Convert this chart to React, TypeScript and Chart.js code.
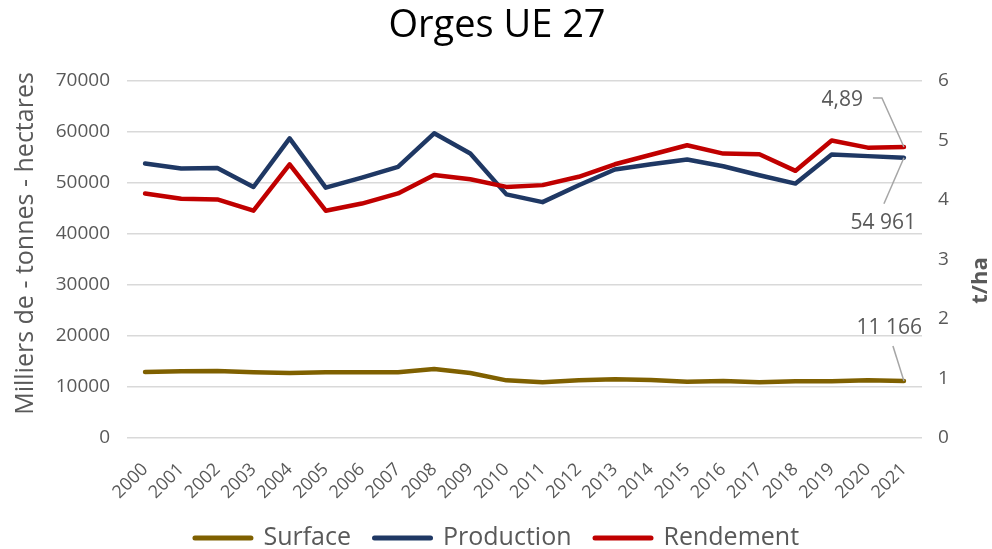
import React, { useEffect, useRef } from 'react';
import { Chart, registerables } from 'chart.js';

Chart.register(...registerables);

const title = 'Orges UE 27';
const years = ['2000', '2001', '2002', '2003', '2004', '2005', '2006', '2007', '2008', '2009', '2010',
  '2011', '2012', '2013', '2014', '2015', '2016', '2017', '2018', '2019', '2020', '2021'];
const surface = [12940, 13080, 13140, 12880, 12750, 12880, 12880, 12880, 13530, 12750, 11300,
  10920, 11310, 11500, 11370, 11050, 11180, 10920, 11110, 11110, 11300, 11166];
const production = [53830, 52840, 52960, 49210, 58760, 49090, 51060, 53160, 59740, 55800, 47770,
  46250, 49550, 52640, 53690, 54610, 53290, 51520, 49880, 55600, 55270, 54961];
const rendement = [4.11, 4.02, 4.01, 3.82, 4.60, 3.82, 3.94, 4.11, 4.42, 4.35, 4.22,
  4.25, 4.39, 4.60, 4.76, 4.92, 4.78, 4.77, 4.49, 5.00, 4.88, 4.89];
const seriesNames = ['Surface', 'Production', 'Rendement'];
const seriesColors = ['#7f6000', '#1f3864', '#c00000'];
const lastLabels = ['11 166', '54 961', '4,89'];
const leftAxisTitle = 'Milliers de - tonnes - hectares';
const rightAxisTitle = 't/ha';

const FONT = "'Open Sans', sans-serif";
const GRAY = '#595959';

const annotationPlugin = {
  id: 'lastAnnotations',
  afterDatasetsDraw(chart: any) {
    const ctx = chart.ctx;
    ctx.save();
    ctx.font = `21px ${FONT}`;
    ctx.fillStyle = GRAY;
    ctx.strokeStyle = '#a6a6a6';
    ctx.lineWidth = 1.5;
    ctx.textAlign = 'right';
    ctx.textBaseline = 'middle';
    const pt = (i: number) => {
      const d = chart.getDatasetMeta(i).data;
      return d[d.length - 1];
    };
    // Rendement
    const r = pt(2);
    ctx.beginPath();
    ctx.moveTo(r.x - 31, r.y - 49);
    ctx.lineTo(r.x - 22, r.y - 49);
    ctx.lineTo(r.x, r.y);
    ctx.stroke();
    ctx.fillText(lastLabels[2], r.x - 41, r.y - 47);
    // Production
    const p = pt(1);
    ctx.beginPath();
    ctx.moveTo(p.x - 20, p.y + 46);
    ctx.lineTo(p.x, p.y);
    ctx.stroke();
    ctx.fillText(lastLabels[1], p.x + 12, p.y + 65);
    // Surface
    const s = pt(0);
    ctx.beginPath();
    ctx.moveTo(s.x - 11, s.y - 35);
    ctx.lineTo(s.x, s.y);
    ctx.stroke();
    ctx.fillText(lastLabels[0], s.x + 18, s.y - 53);

    const ca = chart.chartArea;
    const midY = (ca.top + ca.bottom) / 2;
    // left axis title
    ctx.textAlign = 'center';
    ctx.font = `25px ${FONT}`;
    ctx.save();
    ctx.translate(26, midY - 16);
    ctx.rotate(-Math.PI / 2);
    ctx.fillText(leftAxisTitle, 0, 0);
    ctx.restore();
    // right axis title (reads bottom to top)
    ctx.font = `bold 22px ${FONT}`;
    ctx.translate(981, midY + 21);
    ctx.rotate(-Math.PI / 2);
    ctx.fillText(rightAxisTitle, 0, 0);
    ctx.restore();
  },
};

export default function App() {
  const ref = useRef<HTMLCanvasElement | null>(null);
  useEffect(() => {
    document.body.style.margin = '0';
    const canvas = ref.current!;
    const mk = (i: number, data: number[], axis: string, order: number) => ({
      label: seriesNames[i],
      data,
      yAxisID: axis,
      borderColor: seriesColors[i],
      backgroundColor: seriesColors[i],
      borderWidth: 4.5,
      pointRadius: 0,
      tension: 0,
      borderCapStyle: 'round' as const,
      borderJoinStyle: 'round' as const,
      order,
    });
    const chart = new Chart(canvas, {
      type: 'line',
      data: {
        labels: years,
        datasets: [
          mk(0, surface, 'y', 2),
          mk(1, production, 'y', 1),
          mk(2, rendement, 'y1', 0),
        ],
      },
      options: {
        animation: false,
        responsive: false,
        maintainAspectRatio: false,
        layout: { padding: { left: 2, right: 0, top: 0, bottom: -11.5 } },
        plugins: {
          tooltip: { enabled: false },
          title: {
            display: true,
            text: title,
            color: '#000',
            font: { family: FONT, size: 38, weight: 'normal', lineHeight: 1.2 },
            padding: { top: 3.5, bottom: 31.9 },
          },
          legend: {
            position: 'bottom',
            labels: {
              usePointStyle: true,
              pointStyle: 'line',
              pointStyleWidth: 56,
              boxHeight: 25,
              color: GRAY,
              padding: 23.5,
              font: { family: FONT, size: 25 },
              generateLabels: (c: any) =>
                c.data.datasets.map((ds: any, i: number) => ({
                  text: ds.label,
                  fillStyle: ds.borderColor,
                  strokeStyle: ds.borderColor,
                  fontColor: GRAY,
                  lineWidth: 5,
                  lineCap: 'round',
                  pointStyle: 'line',
                  hidden: false,
                  datasetIndex: i,
                })),
            },
          },
        },
        scales: {
          x: {
            offset: true,
            grid: { display: false },
            border: { display: false },
            afterFit: (scale: any) => { scale.height = 64; },
            ticks: {
              color: GRAY,
              font: { family: FONT, size: 18 },
              minRotation: 45,
              maxRotation: 45,
              padding: 13,
              labelOffset: 0,
              autoSkip: false,
            },
          },
          y: {
            position: 'left',
            min: 0,
            max: 70000,
            border: { display: false },
            grid: { color: '#d9d9d9', lineWidth: 1.5, drawTicks: false },
            afterFit: (scale: any) => { scale.width = 125; },
            ticks: {
              stepSize: 10000,
              color: GRAY,
              padding: 17,
              font: { family: FONT, size: 19 },
              callback: (v: any) => String(v),
            },
          },
          y1: {
            position: 'right',
            min: 0,
            max: 6,
            border: { display: false },
            grid: { drawOnChartArea: false, drawTicks: false },
            afterFit: (scale: any) => { scale.width = 70; },
            ticks: {
              stepSize: 1,
              color: GRAY,
              padding: 16,
              font: { family: FONT, size: 19 },
            },
          },
        },
      },
      plugins: [annotationPlugin],
    });
    return () => chart.destroy();
  }, []);
  return <canvas ref={ref} width={992} height={549} style={{ display: 'block' }} />;
}
